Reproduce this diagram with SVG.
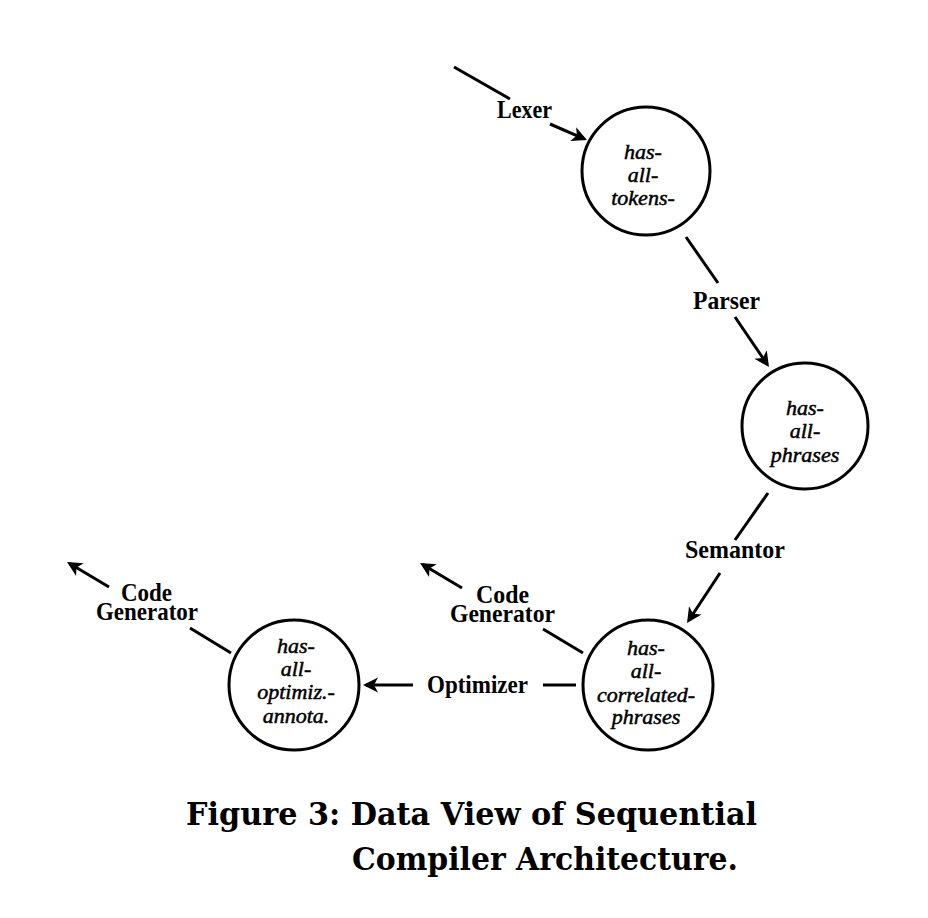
<svg xmlns="http://www.w3.org/2000/svg" width="928" height="918" viewBox="0 0 928 918">
<defs>
<style>
.node{fill:#fff;stroke:#000;stroke-width:3}
.ntxt{font-family:"Liberation Serif","Times New Roman",serif;font-style:italic;font-size:22px;text-anchor:middle;fill:#000;stroke:#000;stroke-width:0.5}
.lbl{font-family:"Liberation Serif","Times New Roman",serif;font-weight:bold;font-size:25px;fill:#000}
.edge{stroke:#000;stroke-width:3;fill:none}
.arr{marker-end:url(#ah)}
.cap{font-family:"DejaVu Serif","Liberation Serif",serif;font-weight:bold;font-size:31px;fill:#000}
</style>
<marker id="ah" viewBox="-13 -8 17 16" refX="0" refY="0" markerWidth="17" markerHeight="16" markerUnits="userSpaceOnUse" orient="auto">
<path d="M3,0 L-12,-7.5 L-8,0 L-12,7.5 Z" fill="#000"/>
</marker>
</defs>
<rect width="928" height="918" fill="#fff"/>
<g id="connectors">
<line class="edge" x1="454" y1="67" x2="510" y2="99"/>
<line class="edge arr" x1="550" y1="124" x2="584.2" y2="138.8"/>
<line class="edge" x1="686" y1="237" x2="718" y2="283"/>
<line class="edge arr" x1="735" y1="317" x2="767.3" y2="364.5"/>
<line class="edge" x1="768" y1="493" x2="735" y2="540"/>
<line class="edge arr" x1="720" y1="573" x2="688.7" y2="620.5"/>
<line class="edge" x1="543" y1="629" x2="583" y2="653"/>
<line class="edge arr" x1="462" y1="588" x2="422.6" y2="564.5"/>
<line class="edge" x1="543" y1="685" x2="576" y2="685"/>
<line class="edge arr" x1="413" y1="685" x2="366" y2="685"/>
<line class="edge" x1="190" y1="628" x2="231" y2="653"/>
<line class="edge arr" x1="109" y1="587" x2="69.6" y2="563.5"/>
<text class="lbl" x="497" y="118" textLength="55" lengthAdjust="spacingAndGlyphs">Lexer</text>
<text class="lbl" x="693" y="309" textLength="67" lengthAdjust="spacingAndGlyphs">Parser</text>
<text class="lbl" x="685" y="558" textLength="100" lengthAdjust="spacingAndGlyphs">Semantor</text>
<text class="lbl" x="476" y="603" textLength="53" lengthAdjust="spacingAndGlyphs">Code</text>
<text class="lbl" x="450" y="622" textLength="105" lengthAdjust="spacingAndGlyphs">Generator</text>
<text class="lbl" x="427" y="693" textLength="101" lengthAdjust="spacingAndGlyphs">Optimizer</text>
<text class="lbl" x="121" y="601" textLength="51" lengthAdjust="spacingAndGlyphs">Code</text>
<text class="lbl" x="96" y="620" textLength="102" lengthAdjust="spacingAndGlyphs">Generator</text>
</g>
<g id="n1">
<circle class="node" cx="646" cy="171" r="64"/>
<text class="ntxt" x="643" y="159">has-</text>
<text class="ntxt" x="643" y="182">all-</text>
<text class="ntxt" x="643" y="205">tokens-</text>
</g>
<g id="n2">
<circle class="node" cx="805" cy="426" r="63"/>
<text class="ntxt" x="805" y="415">has-</text>
<text class="ntxt" x="805" y="438">all-</text>
<text class="ntxt" x="805" y="462">phrases</text>
</g>
<g id="n3">
<circle class="node" cx="648" cy="685" r="65"/>
<text class="ntxt" x="646" y="655">has-</text>
<text class="ntxt" x="646" y="678">all-</text>
<text class="ntxt" x="646" y="702">correlated-</text>
<text class="ntxt" x="646" y="724">phrases</text>
</g>
<g id="n4">
<circle class="node" cx="294" cy="685" r="65"/>
<text class="ntxt" x="296" y="653">has-</text>
<text class="ntxt" x="296" y="676">all-</text>
<text class="ntxt" x="296" y="699">optimiz.-</text>
<text class="ntxt" x="296" y="723">annota.</text>
</g>
<g id="caption">
<text class="cap" x="186" y="825" textLength="571" lengthAdjust="spacingAndGlyphs">Figure 3: Data View of Sequential</text>
<text class="cap" x="352" y="870" textLength="386" lengthAdjust="spacingAndGlyphs">Compiler Architecture.</text>
</g>
</svg>
